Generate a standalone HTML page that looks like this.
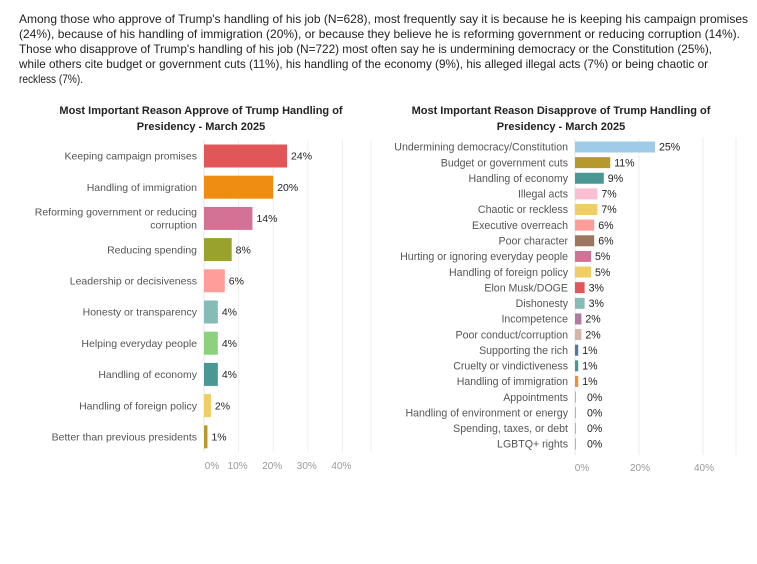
<!DOCTYPE html>
<html><head><meta charset="utf-8"><style>
html,body{margin:0;padding:0;background:#fff;}
svg{display:block;font-family:"Liberation Sans",sans-serif;}
</style></head><body>
<svg id="chart" width="757" height="564" viewBox="0 0 757 564">
<g font-size="12" fill="#222">
<text x="19" y="23" textLength="729" lengthAdjust="spacingAndGlyphs">Among those who approve of Trump's handling of his job (N=628), most frequently say it is because he is keeping his campaign promises</text>
<text x="19" y="38" textLength="721" lengthAdjust="spacingAndGlyphs">(24%), because of his handling of immigration (20%), or because they believe he is reforming government or reducing corruption (14%).</text>
<text x="19" y="53" textLength="693" lengthAdjust="spacingAndGlyphs">Those who disapprove of Trump's handling of his job (N=722) most often say he is undermining democracy or the Constitution (25%),</text>
<text x="19" y="68" textLength="689" lengthAdjust="spacingAndGlyphs">while others cite budget or government cuts (11%), his handling of the economy (9%), his alleged illegal acts (7%) or being chaotic or</text>
<text x="19" y="83" textLength="64" lengthAdjust="spacingAndGlyphs">reckless (7%).</text>
</g>
<g font-size="11" font-weight="bold" fill="#222" text-anchor="middle">
<text x="201" y="114">Most Important Reason Approve of Trump Handling of</text>
<text x="201" y="130">Presidency - March 2025</text>
</g>
<g font-size="11" font-weight="bold" fill="#222" text-anchor="middle">
<text x="561" y="114">Most Important Reason Disapprove of Trump Handling of</text>
<text x="561" y="130">Presidency - March 2025</text>
</g>
<g id="left"></g>
<g id="right"></g>
</svg>
<script>
const leftCats=["Keeping campaign promises","Handling of immigration","Reforming government or reducing|corruption","Reducing spending","Leadership or decisiveness","Honesty or transparency","Helping everyday people","Handling of economy","Handling of foreign policy","Better than previous presidents"];
const leftVals=[24,20,14,8,6,4,4,4,2,1];
const leftColors=["#e15759","#ef8c12","#d37295","#98a22c","#ff9d9a","#86bcb6","#8cd17d","#499894","#f1ce63","#b6992d"];
const leftTicks=[0,10,20,30,40];
const rightCats=["Undermining democracy/Constitution","Budget or government cuts","Handling of economy","Illegal acts","Chaotic or reckless","Executive overreach","Poor character","Hurting or ignoring everyday people","Handling of foreign policy","Elon Musk/DOGE","Dishonesty","Incompetence","Poor conduct/corruption","Supporting the rich","Cruelty or vindictiveness","Handling of immigration","Appointments","Handling of environment or energy","Spending, taxes, or debt","LGBTQ+ rights"];
const rightVals=[25,11,9,7,7,6,6,5,5,3,3,2,2,1,1,1,0,0,0,0];
const rightColors=["#a0cbe8","#b6992d","#499894","#fabfd2","#f1ce63","#ff9d9a","#9d7660","#d37295","#f1ce63","#e15759","#86bcb6","#b07aa1","#d7b5a6","#4e79a7","#499894","#f28e2b","#bab0ac","#bab0ac","#bab0ac","#bab0ac"];
const rightTicks=[0,20,40];
const NS="http://www.w3.org/2000/svg";
function mk(p,t,a){const e=document.createElementNS(NS,t);for(const k in a)e.setAttribute(k,a[k]);p.appendChild(e);return e;}
function draw(g,cats,vals,colors,ticks,o){
  const x=v=>o.x0+v*o.k;
  const y=i=>o.y0+i*o.step;
  ticks.forEach(t=>{if(t>0){const l=mk(g,"line",{x1:x(t),x2:x(t),y1:o.top,y2:o.bot,stroke:"#eee"});
    
    }
    const tx=mk(g,"text",{x:x(t)+(t===0?o.t0Off:o.tOff),y:o.tickY,"font-size":10,fill:"#999","text-anchor":"middle"});tx.textContent=t+"%";
    
    });
  const rl=mk(g,"line",{x1:o.right,x2:o.right,y1:o.top,y2:o.bot,stroke:"#eee"});
  
  
  const al=mk(g,"line",{x1:o.x0,x2:o.x0,y1:o.top,y2:o.bot,stroke:"#e6e6e6"});
  
  
  cats.forEach((c,i)=>{
    const cy=y(i);const parts=c.split("|");
    const t=mk(g,"text",{x:o.x0-7,"font-size":o.fs,fill:"#555","text-anchor":"end"});
    parts.forEach((p,j)=>{const s=mk(t,"tspan",{x:o.x0-7,y:cy+o.fs*0.35+(j-(parts.length-1)/2)*13});s.textContent=p;});
    
    
    const w=Math.max(vals[i]*o.k,vals[i]>0?0:1);
    const r=mk(g,"rect",{x:o.x0,y:cy-o.bh/2,width:w,height:o.bh,fill:colors[i]});
    
    
    const v=mk(g,"text",{x:x(vals[i])+(vals[i]>0?4:12),y:cy+o.fs*0.35,"font-size":o.fs,fill:"#222"});v.textContent=vals[i]+"%";
    
    
  });
}
draw(document.getElementById("left"),leftCats,leftVals,leftColors,leftTicks,{x0:204,k:3.46,y0:156,step:31.2,bh:23,top:140,bot:452,right:371,tickY:469,tOff:-1,t0Off:8,fs:10.5});
draw(document.getElementById("right"),rightCats,rightVals,rightColors,rightTicks,{x0:575,k:3.2,y0:147,step:15.63,bh:11,top:138,bot:455,right:736,tickY:471,tOff:1,t0Off:7,fs:10.6});
</script>
</body></html>
